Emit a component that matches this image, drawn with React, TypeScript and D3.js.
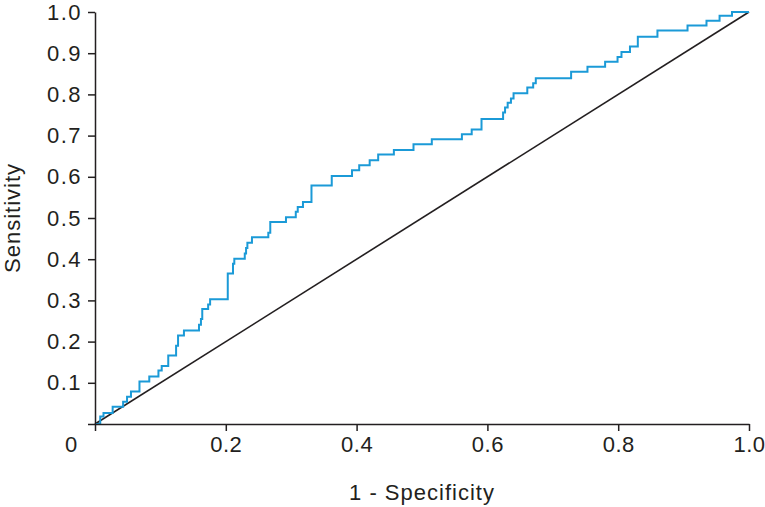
import { useEffect, useRef } from "react";
import * as d3 from "d3";

// step corners of the ROC curve: fpr where the jump happens, tpr after it
const fpr = [
  0, 0.008, 0.013, 0.027, 0.043, 0.049, 0.055, 0.068, 0.083, 0.097, 0.102, 0.112,
  0.124, 0.127, 0.136, 0.159, 0.162, 0.164, 0.173, 0.176, 0.203, 0.211, 0.213,
  0.229, 0.231, 0.233, 0.24, 0.265, 0.268, 0.292, 0.307, 0.31, 0.318, 0.331,
  0.362, 0.393, 0.404, 0.42, 0.433, 0.457, 0.487, 0.515, 0.561, 0.576, 0.591,
  0.624, 0.627, 0.631, 0.636, 0.64, 0.661, 0.67, 0.674, 0.728, 0.753, 0.78,
  0.799, 0.805, 0.818, 0.83, 0.86, 0.906, 0.935, 0.955, 0.974, 1.0,
];
const tpr = [
  0, 0.018, 0.027, 0.042, 0.054, 0.066, 0.079, 0.103, 0.115, 0.13, 0.141, 0.166,
  0.19, 0.215, 0.227, 0.241, 0.255, 0.279, 0.29, 0.303, 0.365, 0.389, 0.401,
  0.414, 0.427, 0.44, 0.453, 0.464, 0.49, 0.502, 0.515, 0.527, 0.539, 0.579,
  0.602, 0.616, 0.628, 0.64, 0.654, 0.665, 0.679, 0.691, 0.703, 0.715, 0.74,
  0.756, 0.768, 0.78, 0.79, 0.803, 0.817, 0.827, 0.839, 0.855, 0.867, 0.879,
  0.891, 0.903, 0.916, 0.94, 0.955, 0.967, 0.979, 0.991, 1.0, 1.0,
];
const tickValues = [0, 0.1, 0.2, 0.3, 0.4, 0.5, 0.6, 0.7, 0.8, 0.9, 1.0];
const xTickValues = [0, 0.2, 0.4, 0.6, 0.8, 1.0];

const width = 765;
const height = 507;
const margin = { top: 12, right: 16, bottom: 83, left: 95 };
const font = "'Liberation Sans', Arial, sans-serif";
const fontSize = "22px";
const ink = "#231f20";

const App = () => {
  const svgRef = useRef(null);

  useEffect(() => {
    const svg = d3.select(svgRef.current);
    svg.selectAll("*").remove();

    const x = d3.scaleLinear().domain([0, 1]).range([margin.left, width - margin.right]);
    const y = d3.scaleLinear().domain([0, 1]).range([height - margin.bottom, margin.top]);
    const fmt = d3.format(".1f");

    // diagonal reference
    svg
      .append("line")
      .attr("x1", x(0))
      .attr("y1", y(0))
      .attr("x2", x(1))
      .attr("y2", y(1))
      .attr("stroke", ink)
      .attr("stroke-width", 1.6);

    const pts = fpr.map((f, i) => [f, tpr[i]] as [number, number]);
    const line = d3
      .line()
      .x((d) => x(d[0]))
      .y((d) => y(d[1]))
      .curve(d3.curveStepAfter);
    svg
      .append("path")
      .attr("d", line(pts))
      .attr("fill", "none")
      .attr("stroke", "#1b9ad7")
      .attr("stroke-width", 2);

    const gy = svg
      .append("g")
      .attr("transform", `translate(${x(0)},0)`)
      .call(
        d3
          .axisLeft(y)
          .tickValues(tickValues)
          .tickSize(7)
          .tickPadding(6)
          .tickSizeOuter(0)
          .tickFormat((d) => (d === 0 ? "" : fmt(d as number)))
      );
    const gx = svg
      .append("g")
      .attr("transform", `translate(0,${y(0)})`)
      .call(
        d3
          .axisBottom(x)
          .tickValues(xTickValues)
          .tickSize(7)
          .tickPadding(5)
          .tickSizeOuter(0)
          .tickFormat((d) => (d === 0 ? "" : fmt(d as number)))
      );
    [gx, gy].forEach((g) => {
      g.select(".domain").attr("stroke", ink).attr("stroke-width", 1.5);
      g.selectAll(".tick line").attr("stroke", ink).attr("stroke-width", 1.5);
      g.selectAll(".tick text")
        .attr("fill", ink)
        .style("font-family", font)
        .style("font-size", fontSize);
    });
    gy.selectAll(".tick text").style("letter-spacing", "1.5px");
    gx.selectAll(".tick text").style("letter-spacing", "0.5px");

    svg
      .append("text")
      .attr("x", 71)
      .attr("y", y(0) + 12)
      .attr("dy", "0.71em")
      .attr("text-anchor", "middle")
      .attr("fill", ink)
      .style("font-family", font)
      .style("font-size", fontSize)
      .text("0");

    svg
      .append("text")
      .attr("x", (x(0) + x(1)) / 2)
      .attr("y", 500)
      .attr("text-anchor", "middle")
      .attr("fill", ink)
      .style("font-family", font)
      .style("font-size", fontSize)
      .style("letter-spacing", "1px")
      .text("1 - Specificity");

    svg
      .append("text")
      .attr("transform", `translate(20,${(y(0) + y(1)) / 2}) rotate(-90)`)
      .attr("text-anchor", "middle")
      .attr("fill", ink)
      .style("font-family", font)
      .style("font-size", fontSize)
      .style("letter-spacing", "1px")
      .text("Sensitivity");
  }, []);

  return (
    <svg
      ref={svgRef}
      width={width}
      height={height}
      style={{ position: "absolute", left: 0, top: 0, background: "#fff" }}
    />
  );
};

export default App;
